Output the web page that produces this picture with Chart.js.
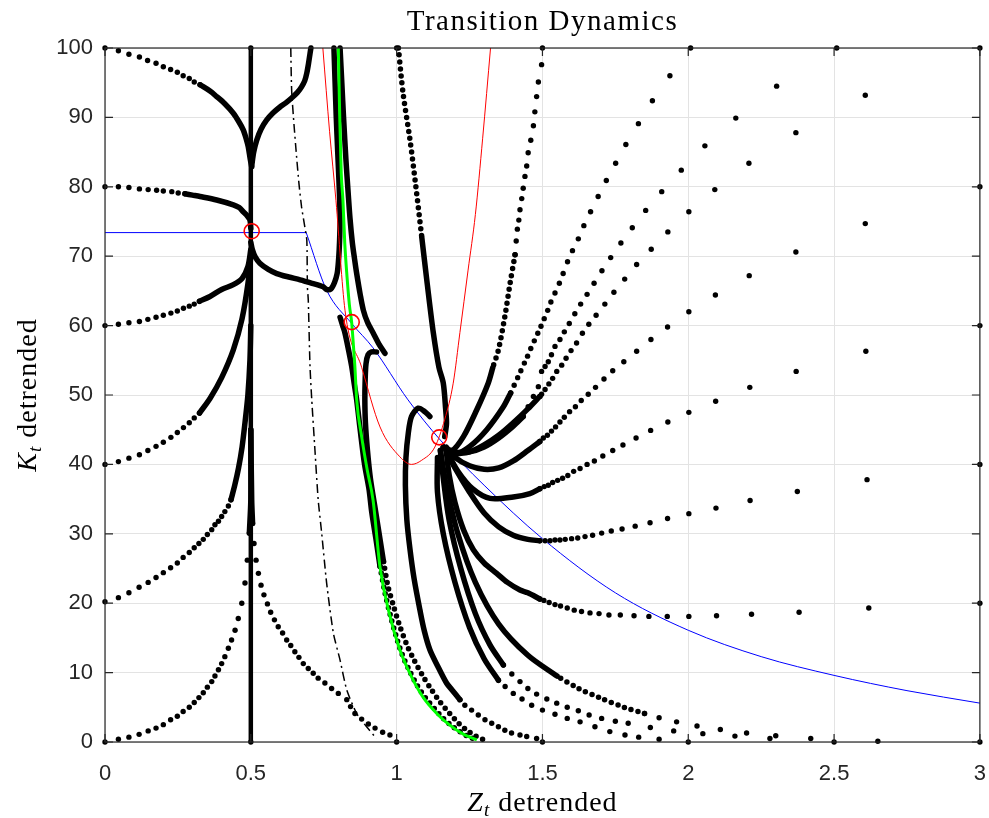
<!DOCTYPE html>
<html>
<head>
<meta charset="utf-8">
<title>Transition Dynamics</title>
<script src="https://cdn.jsdelivr.net/npm/chart.js@4.4.1/dist/chart.umd.min.js"></script>
<style>
  html, body { margin: 0; padding: 0; background: #fff; }
</style>
</head>
<body>
<canvas id="phase" width="989" height="818"></canvas>
<script>
// Axis ticks
const xTicks = [0, 0.5, 1, 1.5, 2, 2.5, 3];
const xTickLabels = ['0', '0.5', '1', '1.5', '2', '2.5', '3'];
const yTicks = [0, 10, 20, 30, 40, 50, 60, 70, 80, 90, 100];
const yTickLabels = ['0', '10', '20', '30', '40', '50', '60', '70', '80', '90', '100'];

// Steady states (red circles)
const steadyStates = [[0.503, 73.6], [0.846, 60.5], [1.146, 43.9]];

// Blue curve: flat part, then the falling part
const blueFlat = [[0, 73.4], [0.69, 73.4]];
const blueCurve = [[0.69, 73.4], [0.76, 65.1], [0.846, 60.3], [0.919, 56.8], [1.039, 49.3],
  [1.15, 43.5], [1.3, 37], [1.5, 29.3], [1.75, 21.5], [2.0, 16.1], [2.25, 12.3], [2.5, 9.6], [2.75, 7.4], [3.0, 5.6]];

// Red curve (U shape)
const redCurve = [[0.747, 100], [0.77, 88], [0.792, 78], [0.823, 62.2], [0.88, 54], [0.943, 45.4], [1.011, 41.1],
  [1.051, 40.0], [1.086, 40.6], [1.131, 42.5], [1.165, 46.5], [1.194, 51.7], [1.217, 59], [1.245, 68],
  [1.27, 76], [1.295, 87], [1.322, 100]];

// Green saddle path
const greenPath = [[0.80, 100], [0.805, 90], [0.81, 82], [0.816, 78], [0.822, 72], [0.83, 67], [0.838, 63],
  [0.846, 60.4], [0.852, 57], [0.857, 54], [0.863, 49.3], [0.88, 44], [0.9, 39], [0.919, 34.9], [0.943, 25.2],
  [0.975, 18.5], [1.011, 13.3], [1.05, 9.5], [1.09, 6.5], [1.14, 4], [1.18, 2.5], [1.23, 1.1], [1.275, 0.3]];

// Dash-dot curve
const dashDotCurve = [[0.637, 100], [0.64, 93.9], [0.648, 89], [0.657, 84.3], [0.665, 80.5], [0.674, 77.1],
  [0.684, 74.5], [0.692, 72.3], [0.694, 65.6], [0.697, 63.7], [0.703, 54.1], [0.709, 49.3], [0.72, 42],
  [0.731, 34.9], [0.743, 30.1], [0.76, 22.9], [0.783, 15.7], [0.806, 11.8], [0.829, 7.5], [0.863, 4.1],
  [0.897, 2.2], [0.931, 0.5]];

// Trajectories: sparse dots read one by one
const dotsFromTopLeft = [[0, 100], [0.046, 99.6], [0.082, 99.1], [0.118, 98.7], [0.146, 98.2], [0.175, 97.8],
  [0.2, 97.3], [0.225, 96.9], [0.248, 96.5], [0.268, 96.0], [0.289, 95.6], [0.306, 95.1], [0.326, 94.7]];
const dotsFrom0_80 = [[0, 80], [0.046, 80.0], [0.082, 79.9], [0.118, 79.7], [0.148, 79.6], [0.177, 79.5],
  [0.2, 79.4], [0.229, 79.3], [0.251, 79.1], [0.274, 79.0]];
const dotsFrom0_60 = [[0, 60], [0.046, 60.2], [0.082, 60.4], [0.118, 60.6], [0.147, 60.9], [0.175, 61.2],
  [0.2, 61.5], [0.226, 61.8], [0.248, 62.1], [0.269, 62.5], [0.289, 62.8], [0.306, 63.1], [0.324, 63.5]];
const dotsFrom0_40 = [[0, 40], [0.046, 40.4], [0.082, 40.9], [0.118, 41.4], [0.147, 42.0], [0.175, 42.6],
  [0.2, 43.2], [0.226, 43.9], [0.248, 44.6], [0.269, 45.3], [0.289, 46.0], [0.306, 46.7], [0.324, 47.4]];
const dotsFrom0_20 = [[0, 20.2], [0.046, 20.8], [0.082, 21.5], [0.117, 22.3], [0.148, 23.0], [0.175, 23.7],
  [0.2, 24.4], [0.225, 25.1], [0.248, 25.8], [0.268, 26.6], [0.289, 27.3], [0.306, 28.0], [0.322, 28.6],
  [0.337, 29.2], [0.351, 29.9], [0.366, 30.6], [0.377, 31.3], [0.389, 31.8], [0.4, 32.5], [0.411, 33.2],
  [0.423, 34.0], [0.432, 34.9]];
const dotsFrom0_0 = [[0, 0], [0.046, 0.4], [0.082, 0.7], [0.117, 1.1], [0.148, 1.6], [0.175, 2.0], [0.2, 2.5],
  [0.225, 3.2], [0.248, 3.7], [0.268, 4.4], [0.289, 5.0], [0.306, 5.7], [0.322, 6.4], [0.337, 7.1],
  [0.351, 7.9], [0.366, 8.7], [0.377, 9.5], [0.389, 10.4], [0.4, 11.3], [0.411, 12.3], [0.423, 13.5],
  [0.434, 14.7], [0.446, 16.1], [0.457, 17.8], [0.469, 20.0], [0.48, 22.9], [0.488, 26.2], [0.495, 30.1]];
const dotsFrom1_0 = [[1.0, 0], [0.977, 1.0], [0.952, 1.4], [0.926, 2.0], [0.903, 2.6], [0.88, 3.3], [0.857, 4.1],
  [0.842, 5.1], [0.829, 6.1], [0.8, 7.0], [0.777, 7.7], [0.754, 8.5], [0.731, 9.2], [0.714, 9.9], [0.697, 10.6],
  [0.68, 11.3], [0.665, 12.2], [0.651, 13.0], [0.637, 13.9], [0.623, 14.7], [0.609, 15.7], [0.594, 16.6],
  [0.581, 17.6], [0.568, 18.7], [0.557, 19.9], [0.545, 21.2], [0.535, 22.6], [0.526, 24.3], [0.518, 26.2],
  [0.511, 28.6], [0.506, 31.5]];
const dotsFrom15_100 = [[1.5, 100], [1.497, 97.6], [1.486, 95.1], [1.48, 93.0], [1.474, 90.8], [1.469, 88.8],
  [1.46, 86.7], [1.451, 84.9], [1.446, 83.0], [1.44, 81.5], [1.434, 79.8], [1.429, 78.3], [1.423, 76.7],
  [1.419, 75.2], [1.414, 73.9], [1.41, 72.2], [1.406, 70.2]];
const dotsFrom2_100 = [[2.008, 100], [1.937, 96.0], [1.877, 92.4], [1.829, 89.1], [1.786, 86.1], [1.751, 83.4],
  [1.719, 80.9], [1.691, 78.6], [1.665, 76.4], [1.642, 74.4], [1.623, 72.5], [1.603, 70.8], [1.586, 69.2],
  [1.571, 67.5], [1.558, 66.1], [1.543, 64.7], [1.529, 63.4], [1.518, 62.2], [1.506, 61.0], [1.495, 59.9],
  [1.484, 58.9], [1.472, 57.8], [1.46, 56.7], [1.449, 55.6], [1.438, 54.6], [1.426, 53.5], [1.415, 52.5],
  [1.403, 51.4], [1.391, 50.3]];
const dotsFrom25_100 = [[2.509, 100], [2.303, 94.5], [2.163, 89.9], [2.057, 85.9], [1.976, 82.4], [1.909, 79.3],
  [1.854, 76.6], [1.808, 74.1], [1.769, 71.9], [1.734, 69.8], [1.704, 67.9], [1.677, 66.1], [1.653, 64.5],
  [1.631, 63.1], [1.611, 61.7], [1.592, 60.3], [1.575, 59.1], [1.56, 58.0], [1.543, 57.0], [1.531, 55.8],
  [1.52, 54.8], [1.509, 54.1], [1.497, 53.4], [1.486, 51.2], [1.469, 49.8], [1.451, 48.3], [1.434, 46.9]];
const dotsFrom3_100 = [[3, 100], [2.607, 93.2], [2.369, 87.8], [2.208, 83.4], [2.091, 79.6], [2.002, 76.4],
  [1.93, 73.5], [1.873, 71.0], [1.823, 68.8], [1.782, 66.7], [1.745, 64.8], [1.714, 63.1], [1.684, 61.5],
  [1.659, 60.2], [1.637, 58.9], [1.617, 57.5], [1.598, 56.4], [1.581, 55.3], [1.566, 54.3], [1.549, 53.4],
  [1.535, 52.4], [1.522, 51.6], [1.509, 50.8], [1.497, 50.1], [1.491, 49.8]];
const dotsFrom3_80 = [[3, 80], [2.607, 74.7], [2.369, 70.6], [2.209, 67.2], [2.093, 64.4], [2.002, 62.0],
  [1.929, 59.8], [1.872, 58.0], [1.823, 56.3], [1.779, 54.8], [1.741, 53.5], [1.711, 52.3], [1.682, 51.1],
  [1.657, 50.1], [1.633, 49.2], [1.613, 48.3], [1.593, 47.6], [1.575, 46.8], [1.56, 46.1], [1.545, 45.4],
  [1.531, 44.8], [1.517, 44.2], [1.503, 43.8], [1.491, 43.3]];
const dotsFrom3_60 = [[3, 60], [2.609, 56.3], [2.37, 53.4], [2.211, 51.1], [2.094, 49.1], [2.002, 47.5],
  [1.93, 46.1], [1.871, 44.9], [1.821, 43.8], [1.776, 42.8], [1.741, 42.0], [1.707, 41.2], [1.678, 40.5],
  [1.653, 40.0], [1.629, 39.4], [1.607, 39.0], [1.587, 38.4], [1.569, 38.0], [1.552, 37.7], [1.535, 37.4],
  [1.52, 37.0], [1.506, 36.8], [1.491, 36.5]];
const dotsFrom3_40 = [[3, 40], [2.613, 37.8], [2.374, 36.1], [2.212, 34.8], [2.095, 33.7], [2.002, 32.9],
  [1.929, 32.2], [1.869, 31.6], [1.818, 31.1], [1.773, 30.7], [1.736, 30.4], [1.703, 30.1], [1.672, 29.8],
  [1.646, 29.6], [1.621, 29.4], [1.6, 29.3], [1.578, 29.2], [1.56, 29.1], [1.543, 29.1], [1.526, 29.0],
  [1.509, 29.0], [1.491, 29.0]];
const dotsFrom3_20 = [[3, 20], [2.619, 19.3], [2.38, 18.7], [2.217, 18.4], [2.097, 18.2], [2.002, 18.1],
  [1.928, 18.1], [1.865, 18.1], [1.814, 18.2], [1.767, 18.3], [1.728, 18.3], [1.694, 18.5], [1.663, 18.6],
  [1.634, 18.8], [1.609, 19.0], [1.585, 19.3], [1.562, 19.6], [1.543, 19.8], [1.523, 20.1], [1.505, 20.4],
  [1.491, 20.6]];
const dotsFrom15_0 = [[1.5, 0], [1.48, 0.5], [1.446, 0.8], [1.423, 1.0], [1.394, 1.3], [1.371, 1.7],
  [1.349, 2.2], [1.326, 2.7], [1.303, 3.2], [1.28, 3.9], [1.257, 4.6], [1.234, 5.3], [1.217, 6.1]];
const dotsFrom2_0 = [[2.0, 0], [1.9, 0.4], [1.83, 0.7], [1.783, 1.0], [1.731, 1.5], [1.68, 2.2], [1.629, 2.9],
  [1.585, 3.4], [1.543, 4.0], [1.5, 4.6], [1.463, 5.3], [1.43, 6.2], [1.4, 7.0], [1.372, 8.0], [1.349, 8.9]];
const dotsFrom25_0 = [[2.5, 0], [2.28, 0.5], [2.16, 0.85], [2.05, 1.2], [1.95, 1.6], [1.87, 2.1], [1.794, 2.7],
  [1.75, 3.0], [1.703, 3.4], [1.66, 3.9], [1.623, 4.5], [1.585, 5.0], [1.549, 5.6], [1.515, 6.2], [1.48, 6.9],
  [1.45, 7.7], [1.423, 8.7], [1.395, 9.8], [1.366, 11.1]];
const dotsFrom3_0 = [[3, 0], [2.65, 0.1], [2.42, 0.5], [2.3, 0.9], [2.2, 1.3], [2.11, 1.8], [2.03, 2.3],
  [1.96, 2.9], [1.9, 3.5], [1.85, 4.1]];
const dotsEdges = [[0.5, 100], [0.5, 0], [1.0, 100]];

// Trajectories: parts where the dots merge into a thick line
const pathTopLeft = [[0.326, 94.7], [0.36, 93.8], [0.383, 93.0], [0.41, 92], [0.44, 90.6], [0.46, 89.3],
  [0.474, 88.2], [0.485, 86.8], [0.491, 85.8], [0.498, 84], [0.503, 82.9]];
const pathUpRight = [[0.503, 83], [0.51, 85], [0.52, 86.7], [0.535, 88.3], [0.554, 89.6], [0.575, 90.6],
  [0.6, 91.5], [0.62, 92.1], [0.64, 92.8], [0.66, 93.6], [0.674, 94.4], [0.685, 95.3], [0.692, 96.4],
  [0.698, 97.8], [0.703, 99.2], [0.706, 100]];
const path0_80 = [[0.274, 79.0], [0.3, 78.8], [0.326, 78.6], [0.383, 78.1], [0.44, 77.4], [0.46, 77],
  [0.474, 76.4], [0.488, 75.8], [0.497, 75.2], [0.5, 74]];
const pathSaddleRight = [[0.5, 72], [0.505, 71], [0.515, 69.9], [0.531, 69.0], [0.56, 68.1], [0.589, 67.5],
  [0.63, 67.0], [0.669, 66.6], [0.71, 66.1], [0.748, 65.6], [0.76, 65.2], [0.775, 65.3], [0.787, 66.2],
  [0.796, 67.5], [0.8, 69], [0.803, 70.9], [0.805, 73], [0.806, 75.7], [0.803, 80], [0.798, 85], [0.793, 90],
  [0.789, 95], [0.785, 100]];
const path0_60 = [[0.324, 63.5], [0.36, 64.2], [0.4, 65.2], [0.44, 65.9], [0.47, 66.8], [0.49, 68.5], [0.5, 71]];
const path0_40 = [[0.324, 47.4], [0.36, 49.5], [0.4, 52.5], [0.44, 56.5], [0.47, 61], [0.49, 66], [0.5, 70]];
const path0_20 = [[0.432, 34.9], [0.445, 37], [0.458, 39.5], [0.47, 42.5], [0.48, 46], [0.49, 50], [0.497, 55], [0.5, 60]];
const path0_0 = [[0.495, 30.1], [0.5, 34.9], [0.5, 45]];
const path1_0 = [[0.506, 31.5], [0.503, 34.9], [0.5, 45]];
const pathVertical = [[0.5, 0], [0.5, 100]];
const pathRightOfGreen = [[0.806, 100], [0.812, 95], [0.818, 90], [0.826, 84], [0.834, 79], [0.84, 75.5],
  [0.848, 72], [0.856, 69.5], [0.863, 67.5], [0.875, 64.5], [0.886, 62.2], [0.9, 60.5], [0.92, 58.9],
  [0.94, 57.3], [0.96, 56]];
const pathLeftOfGreen = [[0.806, 61.2], [0.815, 60], [0.823, 58.9], [0.835, 56.5], [0.846, 54.1], [0.855, 51.5],
  [0.863, 49.3], [0.875, 45], [0.89, 40], [0.905, 36.5], [0.915, 33], [0.93, 29], [0.943, 25.3]];
const dashLeftOfGreen = [[0.943, 25.3], [0.96, 21.5], [0.98, 18], [1.0, 15], [1.02, 12.5], [1.045, 10.2],
  [1.07, 8.2], [1.1, 6.3], [1.13, 4.8], [1.16, 3.4], [1.19, 2.3], [1.22, 1.4], [1.25, 0.7], [1.28, 0.2]];
const pathHook = [[0.931, 56.2], [0.914, 56.2], [0.902, 55.8], [0.895, 54.5], [0.892, 52], [0.891, 49.3],
  [0.893, 46], [0.9, 42], [0.91, 38], [0.925, 34], [0.94, 30], [0.955, 26]];
const dashHook = [[0.955, 26], [0.97, 22.5], [0.99, 19.5], [1.01, 16.8], [1.035, 14], [1.06, 11.8], [1.09, 9.5],
  [1.12, 7.5], [1.15, 5.7], [1.18, 4.2], [1.21, 2.8], [1.24, 1.7], [1.27, 0.9], [1.3, 0.3]];
const dash1_100 = [[1.006, 100], [1.022, 93.5], [1.046, 86.7], [1.066, 80], [1.086, 72.8]];
const path1_100 = [[1.086, 72.8], [1.105, 66], [1.126, 58.9], [1.145, 54], [1.16, 51.7], [1.168, 48],
  [1.171, 45.9], [1.165, 44]];
const path15_0 = [[1.217, 6.1], [1.19, 7.5], [1.171, 8.5], [1.14, 11], [1.114, 13.3], [1.095, 16], [1.08, 19],
  [1.06, 23.5], [1.046, 27.7], [1.035, 32], [1.03, 37], [1.032, 41], [1.04, 44.5], [1.051, 46.9],
  [1.074, 48.1], [1.097, 47.6], [1.114, 46.9]];
const dash15_100 = [[1.406, 70.2], [1.389, 66.1], [1.371, 61.3], [1.349, 56.5], [1.33, 54]];
const path15_100 = [[1.33, 54], [1.314, 51.7], [1.274, 47.8], [1.229, 44.0], [1.19, 42], [1.16, 42.5]];
const path2_100 = [[1.391, 50.3], [1.366, 48.3], [1.309, 45.0], [1.251, 42.6], [1.2, 41.5], [1.16, 42.5]];
const path25_100 = [[1.434, 46.9], [1.4, 45.5], [1.35, 43.8], [1.3, 42.5], [1.25, 41.8], [1.2, 41.8], [1.16, 42.5]];
const path3_100 = [[1.491, 49.8], [1.45, 48], [1.4, 46], [1.35, 44.2], [1.3, 42.8], [1.25, 41.8], [1.2, 41.5]];
const path3_80 = [[1.491, 43.3], [1.45, 42], [1.4, 40.5], [1.35, 39.5], [1.3, 39.3], [1.25, 39.8], [1.2, 41], [1.17, 42.5]];
const path3_60 = [[1.491, 36.5], [1.457, 35.8], [1.4, 35.3], [1.32, 35.1], [1.26, 36.5], [1.21, 39], [1.17, 42]];
const path3_40 = [[1.491, 29], [1.45, 29.2], [1.4, 29.8], [1.35, 31], [1.3, 33], [1.25, 36], [1.2, 39.5], [1.17, 42]];
const path3_20 = [[1.491, 20.6], [1.45, 21.5], [1.423, 21.9], [1.38, 23], [1.343, 24.3], [1.3, 25.8],
  [1.263, 27.7], [1.23, 30.5], [1.2, 34.5], [1.18, 38.5], [1.17, 42]];
const path2_0 = [[1.349, 8.9], [1.3, 12], [1.25, 16.5], [1.2, 23], [1.16, 30], [1.14, 36], [1.14, 41]];
const path25_0 = [[1.366, 11.1], [1.32, 14], [1.27, 18.5], [1.22, 25], [1.18, 32], [1.16, 38], [1.15, 42]];
const dash3_0 = [[1.85, 4.1], [1.78, 5.0], [1.7, 6.3], [1.62, 7.8], [1.55, 9.5]];
const path3_0 = [[1.55, 9.5], [1.45, 12.5], [1.35, 17], [1.27, 23], [1.21, 30], [1.17, 37], [1.15, 42]];

const dotTracks = [dotsFromTopLeft, dotsFrom0_80, dotsFrom0_60, dotsFrom0_40, dotsFrom0_20, dotsFrom0_0,
  dotsFrom1_0, dotsFrom15_100, dotsFrom2_100, dotsFrom25_100, dotsFrom3_100, dotsFrom3_80, dotsFrom3_60,
  dotsFrom3_40, dotsFrom3_20, dotsFrom15_0, dotsFrom2_0, dotsFrom25_0, dotsFrom3_0, dotsEdges];
const solidTracks = [pathTopLeft, pathUpRight, path0_80, pathSaddleRight, path0_60, path0_40, path0_20,
  path0_0, path1_0, pathRightOfGreen, pathLeftOfGreen, pathHook, path1_100, path15_0, path15_100,
  path2_100, path25_100, path3_100, path3_80, path3_60, path3_40, path3_20, path2_0, path25_0, path3_0];
const dashTracks = [dashLeftOfGreen, dashHook, dash1_100, dash15_100, dash3_0];

const toXY = arr => arr.map(([x, y]) => ({ x, y }));

const datasets = [];

datasets.push({
    type: 'scatter',
    data: toXY(steadyStates),
    pointStyle: 'circle',
    pointRadius: 7.5,
    pointBorderWidth: 1.6,
    pointBorderColor: '#ff0000',
    pointBackgroundColor: 'rgba(0,0,0,0)',
    order: 0
});

datasets.push({
    type: 'line',
    data: toXY(greenPath),
    borderColor: '#00ff00',
    borderWidth: 3,
    pointRadius: 0,
    cubicInterpolationMode: 'monotone',
    order: 1
});

datasets.push({
    type: 'line',
    data: toXY(redCurve),
    borderColor: '#ff0000',
    borderWidth: 1,
    pointRadius: 0,
    cubicInterpolationMode: 'monotone',
    order: 2
});

// Vertical path at Z = 0.5
datasets.push({
    type: 'line',
    data: toXY(pathVertical),
    borderColor: '#000',
    borderWidth: 4.5,
    pointRadius: 0,
    order: 3
});

solidTracks.forEach(track => {
    datasets.push({
        type: 'line',
        data: toXY(track),
        borderColor: '#000',
        borderWidth: 5.5,
        borderCapStyle: 'round',
        borderJoinStyle: 'round',
        pointRadius: 0,
        tension: 0.3,
        order: 3
    });
});

dashTracks.forEach(track => {
    datasets.push({
        type: 'line',
        data: toXY(track),
        borderColor: '#000',
        borderWidth: 5.5,
        borderCapStyle: 'round',
        borderDash: [0, 7],
        pointRadius: 0,
        tension: 0.3,
        order: 3
    });
});

dotTracks.forEach(track => {
    datasets.push({
        type: 'scatter',
        data: toXY(track),
        pointRadius: 2.7,
        pointBorderWidth: 0,
        pointBackgroundColor: '#000',
        order: 3
    });
});

datasets.push({
    type: 'line',
    data: toXY(dashDotCurve),
    borderColor: '#000',
    borderWidth: 1.5,
    borderDash: [9, 4, 2, 4],
    pointRadius: 0,
    tension: 0.2,
    order: 4
});

datasets.push({
    type: 'line',
    data: toXY(blueFlat),
    borderColor: '#0000ff',
    borderWidth: 1,
    pointRadius: 0,
    order: 5
});

datasets.push({
    type: 'line',
    data: toXY(blueCurve),
    borderColor: '#0000ff',
    borderWidth: 1,
    pointRadius: 0,
    cubicInterpolationMode: 'monotone',
    order: 5
});

datasets.forEach(d => { d.clip = false; });

// MATLAB-like box, inner ticks, title and axis labels with subscripts
function drawLabel(ctx, parts, cx, baseline) {
    let width = 0;
    parts.forEach(p => { ctx.font = p.font; width += ctx.measureText(p.text).width; });
    let x = cx - width / 2;
    parts.forEach(p => {
        ctx.font = p.font;
        ctx.fillText(p.text, x, baseline + (p.dy || 0));
        x += ctx.measureText(p.text).width;
    });
}

const serif = '"Liberation Serif", "Times New Roman", serif';

const matlabFrame = {
    id: 'matlabFrame',
    afterDraw(chart) {
        const { ctx, chartArea: a, scales: { x, y } } = chart;
        ctx.save();
        ctx.strokeStyle = '#262626';
        ctx.lineWidth = 1.2;
        ctx.strokeRect(a.left, a.top, a.right - a.left, a.bottom - a.top);
        ctx.beginPath();
        xTicks.forEach(v => {
            const px = x.getPixelForValue(v);
            ctx.moveTo(px, a.bottom); ctx.lineTo(px, a.bottom - 8);
            ctx.moveTo(px, a.top); ctx.lineTo(px, a.top + 8);
        });
        yTicks.forEach(v => {
            const py = y.getPixelForValue(v);
            ctx.moveTo(a.left, py); ctx.lineTo(a.left + 8, py);
            ctx.moveTo(a.right, py); ctx.lineTo(a.right - 8, py);
        });
        ctx.stroke();

        ctx.fillStyle = '#000';
        ctx.textBaseline = 'alphabetic';
        ctx.textAlign = 'left';
        ctx.letterSpacing = '1.5px';
        drawLabel(ctx, [{ text: 'Transition Dynamics', font: '29px ' + serif }], (a.left + a.right) / 2, 30);
        ctx.letterSpacing = '1px';
        drawLabel(ctx, [
            { text: 'Z', font: 'italic 28px ' + serif },
            { text: 't', font: 'italic 19px ' + serif, dy: 5 },
            { text: ' detrended', font: '28px ' + serif }
        ], (a.left + a.right) / 2, 811);

        ctx.translate(36, (a.top + a.bottom) / 2);
        ctx.rotate(-Math.PI / 2);
        drawLabel(ctx, [
            { text: 'K', font: 'italic 28px ' + serif },
            { text: 't', font: 'italic 19px ' + serif, dy: 5 },
            { text: ' detrended', font: '28px ' + serif }
        ], 0, 0);
        ctx.restore();
    }
};

const tickFont = { family: '"Liberation Sans", Arial, sans-serif', size: 22 };

new Chart(document.getElementById('phase'), {
    type: 'scatter',
    data: { datasets },
    options: {
        responsive: false,
        animation: false,
        events: [],
        layout: { padding: { left: 0, right: 9, top: 48, bottom: 0 } },
        plugins: { legend: { display: false }, tooltip: { enabled: false }, title: { display: false } },
        scales: {
            x: {
                type: 'linear',
                min: 0,
                max: 3,
                afterBuildTicks: s => { s.ticks = xTicks.map(v => ({ value: v })); },
                afterFit: s => { s.height = 76; s.paddingLeft = 0; s.paddingRight = 0; },
                ticks: {
                    font: tickFont,
                    color: '#262626',
                    padding: 19,
                    maxRotation: 0,
                    callback: (v, i) => xTickLabels[i]
                },
                grid: { color: '#e3e3e3', lineWidth: 1, drawTicks: false },
                border: { display: false }
            },
            y: {
                type: 'linear',
                min: 0,
                max: 100,
                afterBuildTicks: s => { s.ticks = yTicks.map(v => ({ value: v })); },
                afterFit: s => { s.width = 105; s.paddingTop = 0; s.paddingBottom = 0; },
                ticks: {
                    font: tickFont,
                    color: '#262626',
                    padding: 12,
                    callback: (v, i) => yTickLabels[i]
                },
                grid: { color: '#e3e3e3', lineWidth: 1, drawTicks: false },
                border: { display: false }
            }
        }
    },
    plugins: [matlabFrame]
});
</script>
</body>
</html>
